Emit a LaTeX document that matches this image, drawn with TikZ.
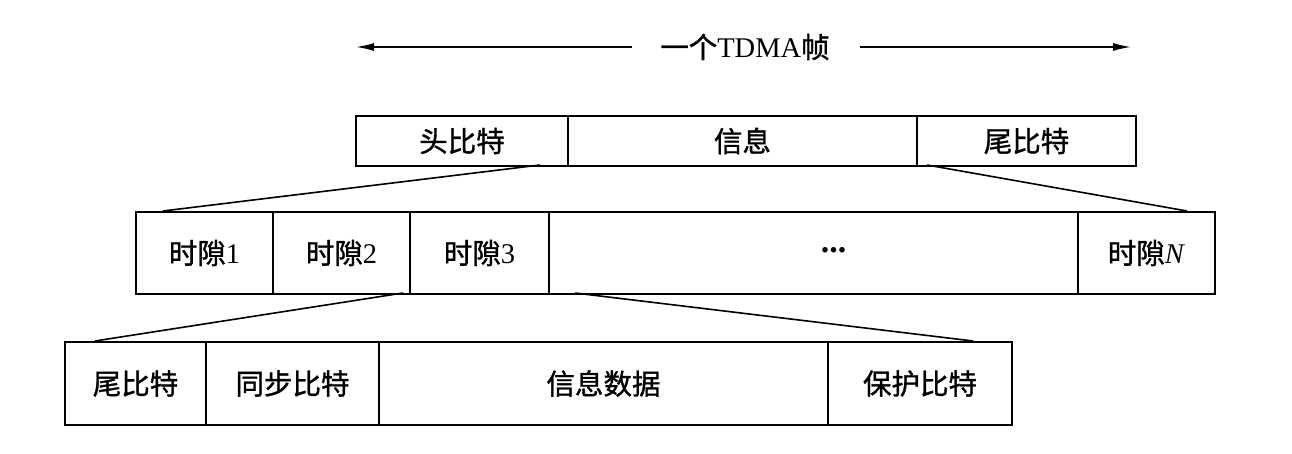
\documentclass[tikz,border=0pt]{standalone}
\usepackage{fontspec}
\setmainfont{Liberation Serif}
\newfontfamily\cjk[FakeBold=1.2]{Noto Sans CJK SC}
\usetikzlibrary{arrows.meta}
\tikzset{
  cell/.style={draw=black, line width=2pt, inner sep=0pt, anchor=north west,
    font=\fontsize{28.5}{32}\selectfont},
  fan/.style={draw=black, line width=1.6pt},
  span/.style={draw=black, line width=1.6pt, -{Latex[length=18pt,width=8pt]}},
}
\newcommand{\cellbox}[6]{% name, x1, x2, ytop, ybot, text
  \node[cell, minimum width=#3pt-#2pt, minimum height=#5pt-#4pt] (#1) at (#2,#4) {#6};}
\begin{document}
\begin{tikzpicture}[x=1pt,y=-1pt]
\useasboundingbox (0,0) rectangle (1292,454);
% title arrow
\node[font=\fontsize{28.5}{32}\selectfont, inner sep=0pt] (title) at (745,47) {{\cjk 一个}TDMA{\cjk 帧}};
\coordinate (tl) at (356,47);
\coordinate (tr) at (1131,47);
\coordinate (tla) at (632,47);
\coordinate (tra) at (860,47);
\draw[span] (tla) -- (tl);
\draw[span] (tra) -- (tr);
% row 1
\cellbox{r1a}{355}{567}{115}{165}{\cjk 头比特}
\cellbox{r1b}{567}{916}{115}{165}{\cjk 信息}
\cellbox{r1c}{916}{1135}{115}{165}{\cjk 尾比特}
% row 2
\cellbox{r2a}{135}{272}{211}{293}{{\cjk 时隙}1}
\cellbox{r2b}{272}{409}{211}{293}{{\cjk 时隙}2}
\cellbox{r2c}{409}{548}{211}{293}{{\cjk 时隙}3}
\cellbox{r2d}{548}{1077}{211}{293}{\hspace*{40pt}\raisebox{0.2em}{\fontsize{34}{36}\selectfont\textbf{...}}}
\cellbox{r2e}{1077}{1214}{211}{293}{{\cjk 时隙}\textit{N}}
% row 3
\cellbox{r3a}{64}{205}{341}{424}{\cjk 尾比特}
\cellbox{r3b}{205}{378}{341}{424}{\cjk 同步比特}
\cellbox{r3c}{378}{827}{341}{424}{\cjk 信息数据}
\cellbox{r3d}{827}{1011}{341}{424}{\cjk 保护比特}
% fan coordinates
\coordinate (f1s) at (540,165);
\coordinate (f1e) at (163,211);
\coordinate (f2s) at (927,165);
\coordinate (f2e) at (1187,211);
\coordinate (f3s) at (403,293);
\coordinate (f3e) at (95,341);
\coordinate (f4s) at (575,293);
\coordinate (f4e) at (973,341);
\draw[fan] (f1s) -- (f1e);
\draw[fan] (f2s) -- (f2e);
\draw[fan] (f3s) -- (f3e);
\draw[fan] (f4s) -- (f4e);
\end{tikzpicture}
\end{document}
